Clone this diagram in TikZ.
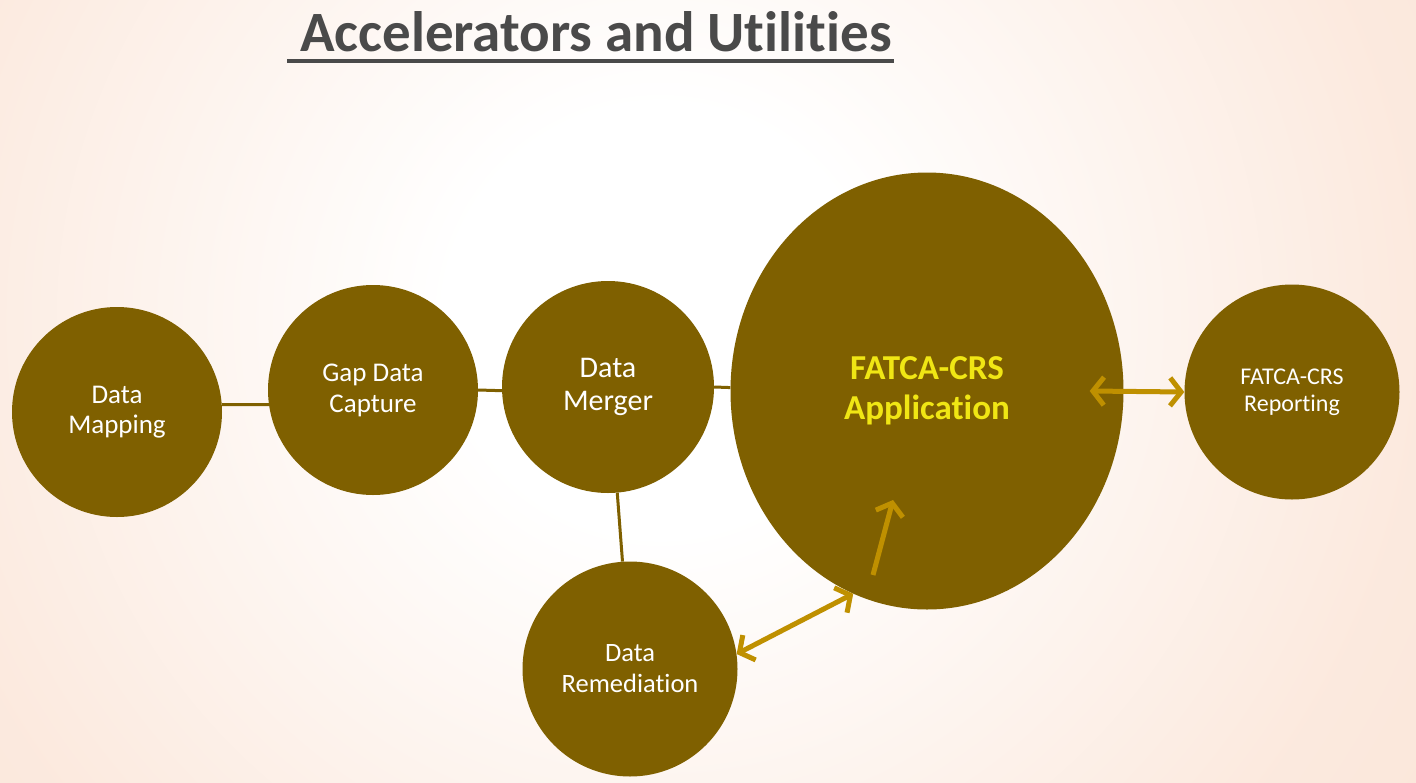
\documentclass[tikz,border=0pt]{standalone}
\usepackage{fontspec}
\setmainfont{Carlito}[Ligatures=NoCommon]
\usetikzlibrary{arrows.meta,shapes.geometric}
\definecolor{olive}{RGB}{127,96,0}
\definecolor{gold}{RGB}{191,144,0}
\definecolor{peach}{RGB}{250,224,208}
\definecolor{titlegray}{RGB}{74,74,74}
\definecolor{appyellow}{RGB}{240,230,20}
\pgfdeclareradialshading{bgshade}{\pgfpoint{0bp}{0bp}}{color(0bp)=(white); color(7bp)=(white); color(25bp)=(peach!70!white); color(45bp)=(peach)}
\begin{document}
\begin{tikzpicture}[x=1pt,y=-1pt,
  bubble/.style={circle,fill=olive,inner sep=0pt,text=white,align=center},
  link/.style={draw=olive,line width=3pt},
  goldarrow/.style={draw=gold,line width=5pt,{Straight Barb[length=11pt,width=28pt]}-{Straight Barb[length=11pt,width=28pt]}},
  goldsingle/.style={draw=gold,line width=5pt,-{Straight Barb[length=11pt,width=28pt]}}]
\useasboundingbox (0,0) rectangle (1416,782);
\begin{scope}
\clip (0,0) rectangle (1416,782);
\fill[peach] (0,0) rectangle (1416,782);
\shade[shading=bgshade] (-100,-440) rectangle (1420,1080);
\end{scope}
% title
\node[anchor=base west,inner sep=0pt,text=titlegray,font=\bfseries\fontsize{57}{62}\selectfont] (title) at (300,51) {Accelerators and Utilities};
\coordinate (ulA) at (287,61);
\coordinate (ulB) at (894,61);
\draw[titlegray,line width=4pt] (ulA) -- (ulB);
% bubbles
\node[bubble,minimum size=210pt,font=\fontsize{27}{30}\selectfont] (map) at (117,412) {Data\\Mapping};
\node[bubble,minimum size=210pt,font=\fontsize{27}{31}\selectfont] (gap) at (373,390) {Gap Data\\Capture};
\node[bubble,minimum size=212pt,font=\fontsize{30}{33}\selectfont] (mer) at (608,387) {Data\\Merger};
\node[ellipse,fill=olive,inner sep=0pt,minimum width=393pt,minimum height=437pt,align=center,text=appyellow,font=\bfseries\fontsize{35}{40}\selectfont] (app) at (927,391) {FATCA-CRS\\Application};
\node[bubble,minimum size=215pt,font=\fontsize{24}{27}\selectfont] (rep) at (1292,392) {FATCA-CRS\\Reporting};
\node[bubble,minimum size=215pt,font=\fontsize{26.5}{31}\selectfont] (rem) at (630,669) {Data\\Remediation};
% connectors
\draw[link] (map.4) -- (gap.188);
\draw[link] (gap.east) -- (mer.182);
\draw[link] (mer.east) -- (app.179);
\draw[link] (mer.275) -- (rem.94);
\draw[goldarrow] ([xshift=-34pt]app.east) -- (rep.west);
\draw[goldarrow] (rem.8) -- (app.250);
\coordinate (inA) at (873,575);
\coordinate (inB) at (893,500);
\draw[goldsingle] (inA) -- (inB);
\end{tikzpicture}
\end{document}
